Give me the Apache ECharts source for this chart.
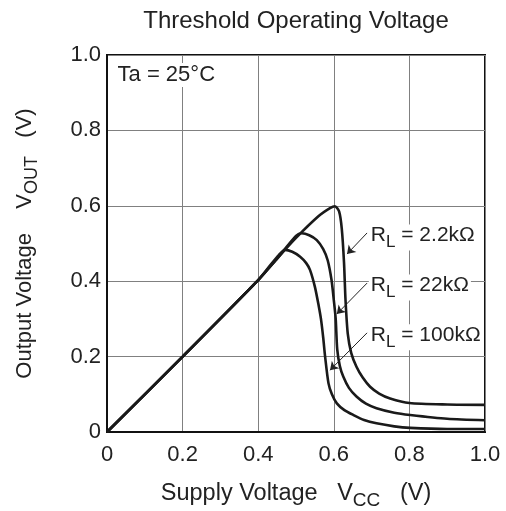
<!DOCTYPE html>
<html>
<head>
<meta charset="utf-8">
<script src="https://cdn.jsdelivr.net/npm/echarts@6/dist/echarts.min.js"></script>
<style>
  html, body { margin: 0; padding: 0; background: #fff; }
  #chart { width: 506px; height: 511px; }
</style>
</head>
<body>
<div id="chart"></div>
<script>
// tick values for both axes (V)
var xTicks = [0, 0.2, 0.4, 0.6, 0.8, 1.0];
var yTicks = [0, 0.2, 0.4, 0.6, 0.8, 1.0];

// V_OUT vs V_CC
var rl2k2 = [[0,0],[0.2,0.2],[0.4,0.403],[0.45,0.46],[0.5,0.515],[0.56,0.573],[0.59,0.594],[0.603,0.599],
  [0.614,0.585],[0.621,0.54],[0.627,0.45],[0.631,0.35],[0.637,0.26],[0.646,0.21],[0.66,0.173],[0.676,0.145],
  [0.696,0.12],[0.72,0.102],[0.749,0.089],[0.8,0.077],[0.9,0.073],[1.0,0.072]];
var rl22k = [[0,0],[0.2,0.2],[0.4,0.403],[0.45,0.46],[0.5,0.52],[0.515,0.527],[0.535,0.522],[0.555,0.509],
  [0.572,0.485],[0.584,0.455],[0.594,0.403],[0.6,0.35],[0.605,0.3],[0.609,0.22],[0.616,0.175],[0.625,0.147],
  [0.64,0.117],[0.66,0.094],[0.685,0.075],[0.713,0.063],[0.76,0.051],[0.802,0.045],[0.9,0.035],[1.0,0.031]];
var rl100k = [[0,0],[0.2,0.2],[0.4,0.403],[0.43,0.44],[0.455,0.47],[0.471,0.483],[0.49,0.478],[0.511,0.465],
  [0.527,0.448],[0.537,0.43],[0.55,0.385],[0.56,0.335],[0.566,0.3],[0.572,0.25],[0.577,0.2],[0.586,0.129],
  [0.595,0.1],[0.608,0.076],[0.628,0.058],[0.652,0.045],[0.68,0.032],[0.713,0.023],[0.76,0.015],[0.802,0.011],
  [0.9,0.008],[1.0,0.008]];

// annotation labels and arrows (data coords)
var labelNames = ['2.2k\u03A9', '22k\u03A9', '100k\u03A9'];
var labelPos = [[0.69, 0.516], [0.69, 0.383], [0.69, 0.251]];
var arrowTips = [[0.635, 0.472], [0.608, 0.313], [0.59, 0.164]];
var arrowStart = [[0.688, 0.528], [0.688, 0.395], [0.688, 0.263]];

var FONT = 'Liberation Sans, Arial, sans-serif';
function subRich(size) {
    return {
        n: { fontSize: size, fontFamily: FONT, color: '#222', lineHeight: size + 2, verticalAlign: 'top' },
        sub: { fontSize: Math.round(size * 0.8), fontFamily: FONT, color: '#222', lineHeight: size + 5, verticalAlign: 'bottom' }
    };
}

var myChart = echarts.init(document.getElementById('chart'));

function curve(name, data, i) {
    return {
        name: name, type: 'line', data: data, showSymbol: false, symbol: 'none',
        smooth: 0.25,
        lineStyle: { color: '#1a1a1a', width: 2.6 },
        silent: true,
        markLine: {
            silent: true, symbol: ['none', 'arrow'], symbolSize: 8,
            lineStyle: { color: '#222', width: 1, type: 'solid' },
            label: { show: false },
            data: [[{ coord: arrowStart[i] }, { coord: arrowTips[i] }]]
        },
        markPoint: {
            silent: true, symbol: 'circle', symbolSize: 0,
            label: {
                show: true, position: 'right', distance: 1,
                backgroundColor: '#fff', padding: [0, 2, 0, 2],
                formatter: '{n|R}{sub|L}{n| = ' + labelNames[i] + '}',
                rich: subRich(21)
            },
            data: [{ coord: labelPos[i] }]
        }
    };
}

var option = {
    backgroundColor: '#fff',
    animation: false,
    title: {
        text: 'Threshold Operating Voltage', left: 291, textAlign: 'center', top: 4,
        textStyle: { fontSize: 24, fontWeight: 'normal', fontFamily: FONT, color: '#222' }
    },
    grid: {
        left: 107, right: 21, top: 55, bottom: 79, outerBoundsMode: 'none',
        show: true, borderColor: '#111', borderWidth: 2, backgroundColor: '#fff'
    },
    xAxis: {
        type: 'value', min: xTicks[0], max: xTicks[xTicks.length - 1], interval: 0.2,
        axisLine: { show: true, lineStyle: { color: '#111', width: 2 } },
        axisTick: { show: false },
        splitLine: { show: true, lineStyle: { color: '#808080', width: 1 } },
        axisLabel: {
            margin: 12, fontSize: 22, fontFamily: FONT, color: '#222',
            formatter: function (v) { return v === 0 ? '0' : v.toFixed(1); }
        },
        name: '{n|Supply Voltage   V}{sub|CC}{n|   (V)}',
        nameLocation: 'middle', nameGap: 50,
        nameTextStyle: { rich: subRich(23.5) }
    },
    yAxis: {
        type: 'value', min: yTicks[0], max: yTicks[yTicks.length - 1], interval: 0.2,
        axisLine: { show: true, lineStyle: { color: '#111', width: 2 } },
        axisTick: { show: false },
        splitLine: { show: true, lineStyle: { color: '#808080', width: 1 } },
        axisLabel: {
            margin: 6, fontSize: 22, fontFamily: FONT, color: '#222',
            formatter: function (v) { return v === 0 ? '0' : v.toFixed(1); }
        },
        name: '{n|Output Voltage    V}{sub|OUT}{n|   (V)}',
        nameLocation: 'middle', nameGap: 66, nameRotate: 90,
        nameTextStyle: { rich: subRich(22) }
    },
    series: [
        curve('RL = 2.2k', rl2k2, 0),
        curve('RL = 22k', rl22k, 1),
        curve('RL = 100k', rl100k, 2),
        {
            type: 'line', data: [], silent: true,
            markPoint: {
                silent: true, symbol: 'circle', symbolSize: 0,
                label: {
                    show: true, position: 'right', distance: 0,
                    backgroundColor: '#fff', padding: [1, 3, 1, 3],
                    formatter: 'Ta = 25\u00B0C', fontSize: 22, fontFamily: FONT, color: '#222'
                },
                data: [{ coord: [0.02, 0.947] }]
            }
        }
    ]
};

myChart.setOption(option);
</script>
</body>
</html>
